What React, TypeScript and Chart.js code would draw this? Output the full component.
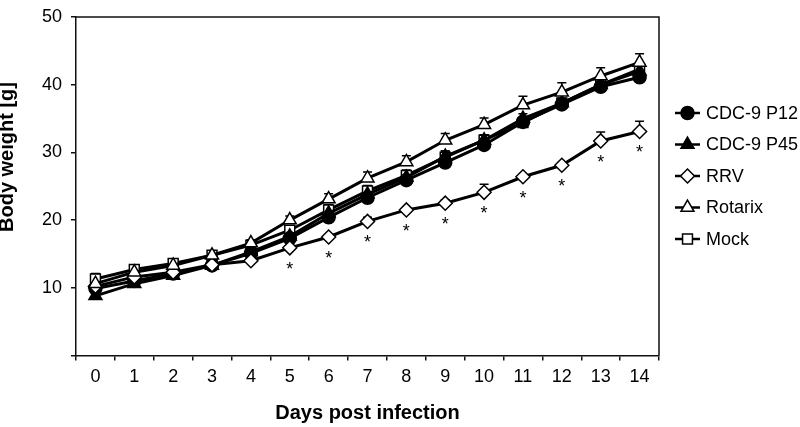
import React, { useEffect, useRef } from 'react';
import { Chart, registerables } from 'chart.js';
import { drawPoint } from 'chart.js/helpers';

Chart.register(...registerables);

const days = ['0', '1', '2', '3', '4', '5', '6', '7', '8', '9', '10', '11', '12', '13', '14'];

const cdc9P12 = [9.9, 11.0, 12.1, 13.3, 15.1, 17.3, 20.4, 23.3, 25.9, 28.5, 31.1, 34.5, 37.1, 39.7, 41.1];
const cdc9P12Err = [0.4, 0.4, 0.4, 0.4, 0.5, 0.6, 0.7, 0.7, 0.7, 0.8, 0.8, 0.7, 0.7, 0.8, 0.9];

const cdc9P45 = [8.8, 10.6, 11.8, 13.3, 15.3, 17.6, 21.0, 23.8, 26.3, 29.4, 31.8, 35.0, 37.3, 40.0, 42.0];
const cdc9P45Err = [0.4, 0.4, 0.4, 0.4, 0.5, 0.6, 0.7, 0.7, 0.7, 0.8, 0.8, 0.7, 0.7, 0.8, 0.9];

const rrv = [10.2, 11.6, 12.3, 13.4, 14.0, 15.9, 17.5, 19.8, 21.5, 22.5, 24.1, 26.4, 28.1, 31.7, 33.1];
const rrvErr = [0.4, 0.3, 0.3, 0.3, 0.3, 0.3, 0.3, 0.6, 0.4, 0.5, 1.2, 0.3, 0.4, 1.3, 1.5];
const rrvSignificant = [false, false, false, false, false, true, true, true, true, true, true, true, true, true, true];

const rotarix = [10.6, 12.3, 13.3, 14.8, 16.6, 20.0, 23.1, 26.2, 28.6, 31.8, 34.1, 37.0, 38.9, 41.3, 43.3];
const rotarixErr = [0.5, 0.5, 0.5, 0.5, 0.5, 0.6, 0.8, 0.9, 0.9, 1.0, 1.0, 1.3, 1.4, 1.2, 1.3];

const mock = [11.3, 12.7, 13.6, 14.8, 16.3, 18.5, 21.5, 24.3, 26.6, 29.3, 31.8, 34.4, 37.3, 40.0, 42.3];
const mockErr = [0.8, 0.6, 0.5, 0.5, 0.5, 0.6, 0.8, 0.8, 0.8, 0.9, 0.8, 0.6, 0.6, 0.9, 1.0];

const yTickValues = [10, 20, 30, 40, 50];
const yTitle = 'Body weight [g]';
const xTitle = 'Days post infection';

const FONT = '"Liberation Sans", Arial, sans-serif';

const errorBarPlugin = {
  id: 'errorBars',
  beforeDatasetsDraw(chart: any) {
    const { ctx } = chart;
    const yScale = chart.scales.y;
    ctx.save();
    ctx.strokeStyle = '#000';
    ctx.lineWidth = 1.5;
    chart.data.datasets.forEach((ds: any, i: number) => {
      const meta = chart.getDatasetMeta(i);
      if (!ds.errorUp) return;
      meta.data.forEach((pt: any, j: number) => {
        const top = yScale.getPixelForValue(ds.data[j] + ds.errorUp[j]);
        ctx.beginPath();
        ctx.moveTo(pt.x, pt.y);
        ctx.lineTo(pt.x, top);
        ctx.moveTo(pt.x - 4.5, top);
        ctx.lineTo(pt.x + 4.5, top);
        ctx.stroke();
      });
    });
    ctx.restore();
  },
};

const extrasPlugin = {
  id: 'extras',
  afterDraw(chart: any) {
    const { ctx, chartArea } = chart;
    ctx.save();
    // frame top and right
    ctx.strokeStyle = '#111';
    ctx.lineWidth = 1.5;
    ctx.beginPath();
    ctx.moveTo(chartArea.left, chartArea.top);
    ctx.lineTo(chartArea.right, chartArea.top);
    ctx.lineTo(chartArea.right, chartArea.bottom);
    ctx.stroke();

    // y axis title
    ctx.save();
    ctx.translate(7.5, 157);
    ctx.rotate(-Math.PI / 2);
    ctx.fillStyle = '#000';
    ctx.font = `bold 20px ${FONT}`;
    ctx.textAlign = 'center';
    ctx.textBaseline = 'middle';
    ctx.fillText(yTitle, 0, 0);
    ctx.restore();

    // significance asterisks under RRV
    const idx = chart.data.datasets.findIndex((d: any) => d.label === 'RRV');
    const meta = chart.getDatasetMeta(idx);
    ctx.fillStyle = '#000';
    ctx.font = `18px ${FONT}`;
    ctx.textAlign = 'center';
    ctx.textBaseline = 'alphabetic';
    meta.data.forEach((pt: any, j: number) => {
      if (rrvSignificant[j]) ctx.fillText('*', pt.x, pt.y + 27);
    });

    // legend
    const x0 = 675;
    const y0 = 113;
    const gap = 31.5;
    chart.data.datasets.forEach((ds: any, i: number) => {
      const y = y0 + i * gap;
      ctx.strokeStyle = '#000';
      ctx.lineWidth = 2.5;
      ctx.beginPath();
      ctx.moveTo(x0, y);
      ctx.lineTo(x0 + 25, y);
      ctx.stroke();
      ctx.fillStyle = ds.pointBackgroundColor;
      ctx.strokeStyle = '#000';
      ctx.lineWidth = 1.5;
      drawPoint(ctx, { pointStyle: ds.pointStyle, radius: ds.pointRadius, rotation: 0, borderWidth: 1.5 }, x0 + 12.5, y);
      ctx.fillStyle = '#000';
      ctx.font = `18px ${FONT}`;
      ctx.textAlign = 'left';
      ctx.textBaseline = 'middle';
      ctx.fillText(ds.label, x0 + 31, y + 1);
    });
    ctx.restore();
  },
};

export default function App() {
  const ref = useRef<HTMLCanvasElement | null>(null);

  useEffect(() => {
    if (!ref.current) return;
    const mk = (label: string, data: number[], err: number[], style: string, fill: string, radius: number, order: number) => ({
      label,
      data,
      errorUp: err,
      borderColor: '#000',
      borderWidth: 3,
      pointStyle: style,
      pointRadius: radius,
      pointBackgroundColor: fill,
      pointBorderColor: '#000',
      pointBorderWidth: 1.5,
      fill: false,
      tension: 0,
      order,
    });
    const chart = new Chart(ref.current, {
      type: 'line',
      data: {
        labels: days,
        datasets: [
          mk('CDC-9 P12', cdc9P12, cdc9P12Err, 'circle', '#000', 6.5, 2),
          mk('CDC-9 P45', cdc9P45, cdc9P45Err, 'triangle', '#000', 7.5, 3),
          mk('RRV', rrv, rrvErr, 'rectRot', '#fff', 7, 1),
          mk('Rotarix', rotarix, rotarixErr, 'triangle', '#fff', 7.5, 0),
          mk('Mock', mock, mockErr, 'rect', '#fff', 7, 4),
        ] as any,
      },
      options: {
        responsive: false,
        animation: false,
        layout: { autoPadding: false, padding: { left: 0, right: 141, top: 0, bottom: 0 } },
        plugins: {
          legend: { display: false },
          tooltip: { enabled: false },
        },
        scales: {
          x: {
            type: 'category',
            offset: true,
            grid: {
              display: true,
              offset: true,
              drawOnChartArea: false,
              drawTicks: true,
              tickLength: 5,
              color: '#111',
              lineWidth: 1.5,
            },
            border: { display: true, color: '#111', width: 1.5 },
            ticks: {
              color: '#000',
              font: { family: FONT, size: 18 },
              padding: 6,
              maxRotation: 0,
              autoSkip: false,
            },
            title: {
              display: true,
              text: xTitle,
              color: '#000',
              font: { family: FONT, size: 20, weight: 'bold', lineHeight: 1.2 },
              padding: { top: 7, bottom: 2 },
            },
          },
          y: {
            type: 'linear',
            min: 0,
            max: 50,
            afterBuildTicks: (axis: any) => {
              axis.ticks = [0, ...yTickValues].map((v) => ({ value: v }));
            },
            afterFit: (axis: any) => {
              axis.width = 76;
            },
            grid: {
              display: true,
              drawOnChartArea: false,
              drawTicks: true,
              tickLength: 5,
              color: '#111',
              lineWidth: 1.5,
            },
            border: { display: true, color: '#111', width: 1.5 },
            ticks: {
              color: '#000',
              font: { family: FONT, size: 18, lineHeight: 0.9 },
              padding: 9,
              callback: (v: any) => (v === 0 ? '' : String(v)),
            },
            title: { display: false },
          },
        },
      } as any,
      plugins: [errorBarPlugin, extrasPlugin],
    });
    return () => chart.destroy();
  }, []);

  return (
    <div style={{ position: 'absolute', left: 0, top: 0, width: 800, height: 427, background: '#fff' }}>
      <canvas ref={ref} width={800} height={427} style={{ display: 'block' }} />
    </div>
  );
}
